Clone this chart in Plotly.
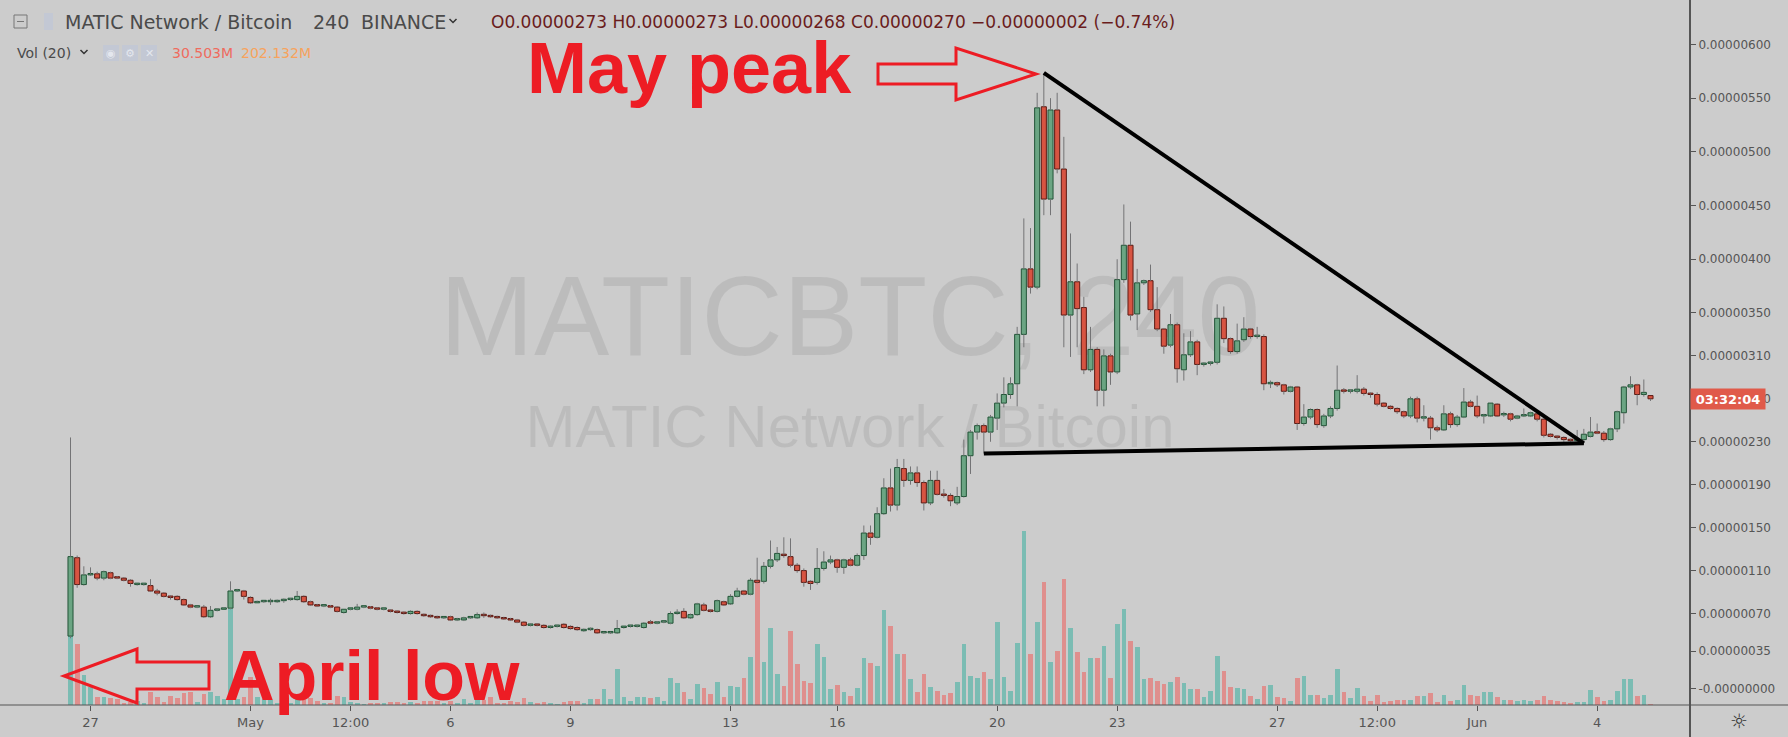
import pandas as pd
import plotly.graph_objects as go

# ---------------- DATA : MATIC / BTC (Binance), 4h candles, prices in satoshi (1e-8 BTC) -------------
opens = [
    49, 122, 97, 106, 107, 103, 108, 104, 103, 101,
    97, 97, 96, 91, 89, 86, 86, 83, 78, 76,
    76, 67, 73, 74, 75, 91, 91, 85, 80, 81,
    81, 81, 82, 83, 83, 86, 81, 78, 77, 77,
    76, 71, 74, 74, 76, 76, 75, 74, 73, 72,
    71, 70, 72, 69, 68, 67, 66, 67, 64, 64,
    66, 66, 69, 68, 67, 66, 65, 64, 62, 59,
    60, 59, 57, 58, 60, 58, 57, 54, 55, 55,
    52, 52, 52, 57, 58, 58, 57, 62, 61, 62,
    61, 70, 72, 66, 69, 78, 73, 72, 81, 79,
    86, 91, 88, 101, 100, 114, 120, 125, 123, 115,
    110, 100, 99, 112, 118, 120, 113, 120, 115, 124,
    145, 141, 163, 187, 171, 205, 194, 201, 192, 173,
    194, 181, 180, 173, 179, 217, 239, 245, 239, 252,
    266, 274, 284, 330, 391, 374, 542, 456, 539, 484,
    348, 379, 355, 297, 316, 278, 310, 295, 381, 413,
    349, 378, 380, 353, 335, 320, 339, 297, 311, 323,
    302, 303, 304, 345, 326, 314, 325, 335, 328, 328,
    284, 285, 283, 277, 281, 247, 253, 260, 245, 254,
    261, 278, 277, 277, 279, 275, 274, 266, 263, 261,
    258, 254, 270, 252, 252, 243, 241, 256, 246, 253,
    267, 263, 254, 254, 265, 255, 256, 252, 254, 254,
    256, 251, 237, 235, 234, 232, 231, 232, 235, 239,
    238, 232, 242, 257, 281, 283, 274, 273,
]
highs = [
    234, 124, 114, 113, 109, 110, 109, 105, 104, 102,
    98, 98, 102, 93, 90, 87, 87, 84, 79, 77,
    78, 77, 75, 76, 100, 93, 92, 86, 82, 82,
    84, 83, 84, 84, 91, 87, 82, 79, 78, 78,
    77, 74, 75, 79, 77, 77, 76, 75, 74, 73,
    72, 73, 73, 70, 69, 68, 67, 68, 66, 67,
    67, 71, 71, 69, 68, 67, 66, 65, 63, 61,
    61, 60, 59, 59, 61, 59, 58, 56, 57, 56,
    53, 53, 64, 58, 59, 59, 62, 64, 63, 63,
    72, 74, 75, 70, 80, 80, 74, 83, 82, 88,
    94, 92, 103, 122, 118, 138, 132, 141, 140, 117,
    112, 101, 131, 128, 124, 121, 121, 122, 126, 152,
    152, 169, 196, 205, 214, 214, 207, 207, 194, 203,
    203, 186, 182, 188, 232, 241, 247, 247, 255, 275,
    290, 290, 337, 438, 429, 555, 573, 550, 555, 514,
    424, 396, 365, 337, 318, 316, 312, 400, 451, 435,
    391, 381, 395, 374, 336, 349, 341, 331, 333, 325,
    304, 305, 358, 356, 327, 340, 346, 336, 337, 330,
    287, 286, 284, 282, 282, 265, 261, 261, 256, 263,
    301, 280, 279, 292, 281, 276, 276, 267, 264, 262,
    259, 272, 272, 264, 254, 245, 264, 258, 255, 280,
    269, 273, 256, 266, 266, 258, 257, 255, 261, 258,
    258, 252, 238, 236, 235, 233, 241, 242, 253, 247,
    240, 243, 259, 282, 291, 284, 288, 273,
]
lows = [
    47, 94, 96, 105, 101, 101, 102, 102, 100, 95,
    96, 96, 90, 87, 85, 83, 82, 77, 75, 75,
    66, 66, 72, 74, 74, 90, 83, 79, 80, 80,
    78, 80, 80, 82, 82, 80, 77, 76, 76, 75,
    71, 70, 73, 73, 75, 74, 73, 73, 71, 70,
    69, 69, 69, 67, 66, 65, 65, 63, 63, 63,
    65, 65, 66, 66, 65, 64, 63, 61, 58, 58,
    58, 56, 56, 57, 56, 55, 54, 53, 54, 51,
    51, 51, 51, 56, 57, 57, 56, 60, 60, 61,
    60, 69, 65, 65, 68, 72, 71, 71, 77, 78,
    85, 87, 87, 98, 98, 112, 118, 122, 113, 108,
    95, 92, 97, 110, 116, 108, 107, 114, 114, 120,
    134, 140, 162, 165, 166, 188, 190, 188, 166, 171,
    180, 178, 170, 171, 178, 200, 232, 219, 230, 241,
    262, 270, 263, 318, 368, 372, 441, 441, 480, 318,
    309, 318, 293, 295, 263, 263, 283, 293, 378, 343,
    334, 376, 351, 333, 312, 318, 285, 287, 309, 292,
    300, 301, 302, 322, 312, 312, 323, 326, 326, 278,
    280, 281, 274, 276, 241, 245, 251, 243, 243, 252,
    259, 275, 275, 275, 273, 271, 263, 262, 260, 256,
    252, 252, 248, 249, 232, 239, 240, 243, 244, 252,
    262, 252, 247, 253, 253, 253, 249, 251, 253, 253,
    249, 234, 234, 232, 230, 230, 229, 230, 234, 237,
    230, 231, 239, 247, 279, 264, 272, 268,
]
closes = [
    123, 97, 106, 107, 103, 109, 103, 103, 101, 98,
    98, 97, 91, 89, 86, 85, 83, 78, 76, 76,
    67, 73, 74, 75, 91, 92, 86, 80, 81, 81,
    81, 82, 83, 83, 86, 81, 78, 77, 77, 76,
    72, 74, 75, 76, 76, 75, 74, 74, 72, 71,
    70, 72, 70, 68, 67, 66, 66, 64, 65, 66,
    66, 69, 68, 67, 66, 65, 64, 62, 59, 60,
    59, 57, 58, 58, 57, 56, 55, 55, 55, 52,
    52, 52, 56, 58, 58, 58, 61, 61, 62, 62,
    70, 71, 66, 69, 79, 73, 72, 82, 78, 86,
    91, 88, 101, 99, 114, 120, 126, 124, 115, 110,
    99, 98, 112, 118, 120, 113, 120, 115, 124, 145,
    141, 163, 187, 171, 206, 194, 201, 192, 173, 194,
    181, 180, 175, 179, 217, 239, 245, 239, 253, 266,
    274, 284, 330, 391, 374, 541, 456, 539, 484, 348,
    379, 354, 297, 316, 278, 310, 295, 381, 413, 348,
    378, 380, 353, 335, 319, 339, 298, 311, 323, 302,
    303, 304, 345, 326, 314, 324, 335, 328, 328, 284,
    285, 283, 277, 281, 247, 253, 260, 246, 254, 261,
    278, 277, 277, 279, 275, 274, 265, 263, 261, 258,
    254, 270, 252, 253, 243, 241, 256, 246, 253, 267,
    263, 254, 255, 266, 254, 256, 251, 254, 255, 257,
    251, 236, 235, 234, 232, 231, 232, 237, 239, 238,
    232, 242, 258, 281, 283, 274, 276, 270,
]
# volume in millions of MATIC
volume_m = [
    1733, 1525, 750, 458, 200, 200, 168, 143, 43, 75,
    108, 58, 333, 208, 83, 225, 168, 293, 333, 68,
    268, 333, 225, 143, 2400, 143, 208, 708, 208, 143,
    125, 43, 125, 43, 275, 208, 168, 108, 43, 43,
    233, 208, 83, 43, 33, 43, 58, 58, 75, 75,
    58, 83, 58, 108, 108, 108, 43, 100, 58, 143,
    43, 168, 125, 193, 43, 43, 108, 83, 168, 83,
    58, 75, 43, 25, 83, 108, 108, 43, 143, 143,
    393, 143, 893, 200, 108, 200, 200, 175, 200, 108,
    668, 543, 333, 143, 518, 418, 268, 575, 200, 483,
    450, 668, 1208, 3058, 1075, 1925, 768, 483, 1858, 1018,
    608, 543, 1518, 1208, 393, 508, 325, 233, 418, 1168,
    1043, 975, 2383, 1975, 1268, 1268, 643, 325, 768, 443,
    350, 258, 293, 575, 1518, 725, 668, 825, 643, 2075,
    700, 350, 1543, 4358, 1268, 2075, 3075, 1075, 1350, 3143,
    1918, 1325, 825, 1168, 1168, 1483, 668, 2018, 2393, 1608,
    1450, 643, 668, 600, 518, 575, 700, 543, 393, 393,
    200, 350, 1233, 850, 450, 418, 393, 233, 143, 475,
    508, 200, 168, 100, 668, 725, 258, 258, 168, 258,
    893, 325, 168, 418, 225, 100, 258, 68, 100, 133,
    133, 133, 225, 225, 293, 68, 258, 100, 133, 508,
    258, 225, 325, 325, 200, 133, 133, 100, 133, 100,
    133, 225, 133, 100, 68, 43, 68, 68, 383, 193,
    100, 133, 350, 643, 643, 225, 258, 30.503,
]

first_bar = "2019-04-26 12:00"
last_bar = "2019-06-05 08:00"
missing_bars = ["2019-05-15 04:00", "2019-05-15 08:00"]   # exchange maintenance, no bars

tick_times = ["2019-04-27 00:00", "2019-05-01 00:00", "2019-05-03 12:00", "2019-05-06 00:00",
              "2019-05-09 00:00", "2019-05-13 00:00", "2019-05-16 00:00", "2019-05-20 00:00",
              "2019-05-23 00:00", "2019-05-27 00:00", "2019-05-29 12:00", "2019-06-01 00:00",
              "2019-06-04 00:00"]
tick_labels = ["27", "May", "12:00", "6", "9", "13", "16", "20", "23", "27", "12:00", "Jun", "4"]

price_ticks = [600, 550, 500, 450, 400, 350, 310, 270, 230, 190, 150, 110, 70, 35, 0]
price_tick_labels = ["0.00000600", "0.00000550", "0.00000500", "0.00000450", "0.00000400",
                     "0.00000350", "0.00000310", "0.00000270", "0.00000230", "0.00000190",
                     "0.00000150", "0.00000110", "0.00000070", "0.00000035", "-0.00000000"]

# drawn trend lines: (bar number, price in satoshi)
upper_line_bars, upper_line_prices = [146, 227], [573.5, 228.5]
lower_line_bars, lower_line_prices = [137, 227], [219, 228.5]

# ---------------- build ----------------
bar_keys = [t.strftime("%Y-%m-%d %H:%M") for t in pd.date_range(first_bar, last_bar, freq="4h")]
bar_keys = [k for k in bar_keys if k not in missing_bars]
n = min(len(bar_keys), len(opens), len(highs), len(lows), len(closes), len(volume_m))
idx = list(range(n))
tickvals = [bar_keys.index(t) for t in tick_times]

up = [closes[i] >= opens[i] for i in idx]
BG = "#cccccc"
UP_FILL, UP_LINE = "#6ba583", "#225437"
DN_FILL, DN_LINE = "#d75442", "#5b1a13"
WICK = "#737375"
VOL_UP, VOL_DN = "#7bbcb3", "#df8f8d"
RED = "#ed1c24"

W, H = 1788, 737
ML, MR, MT, MB = 0, 98, 0, 32
PW, PH = W - ML - MR, H - MT - MB
BAR_PX = 6.6667          # pixel pitch of one bar
X0_PX = 70.5             # pixel of bar 0
Y0_PX, SAT_PX = 688.7, 1.0737   # pixel of price 0, pixels per satoshi
VOL_PER_PX = 25.0        # million per pixel in the volume overlay

x_range = [(0 - X0_PX) / BAR_PX, (PW - X0_PX) / BAR_PX]
p_range = [(Y0_PX - PH) / SAT_PX, Y0_PX / SAT_PX]


def fx(x):
    return (x - ML) / PW


def fy(y):
    return 1 - (y - MT) / PH


fig = go.Figure()

# volume (base axis, drawn below candles)
fig.add_bar(x=idx, y=volume_m[:n], width=0.7, yaxis="y",
            marker=dict(color=[VOL_UP if u else VOL_DN for u in up], line=dict(width=0)),
            hoverinfo="skip")

# wicks (upper and lower parts, so they stay outside the bodies)
wx, wy = [], []
for i in idx:
    top, bot = max(opens[i], closes[i]), min(opens[i], closes[i])
    wx += [i, i, None, i, i, None]
    wy += [highs[i], top, None, bot, lows[i], None]
fig.add_scatter(x=wx, y=wy, mode="lines", yaxis="y2", line=dict(color=WICK, width=1),
                hoverinfo="skip", connectgaps=False)

# bodies
fig.add_bar(x=idx, y=[max(abs(closes[i] - opens[i]), 1.3) for i in idx],
            base=[min(opens[i], closes[i]) for i in idx], width=0.76, yaxis="y2",
            marker=dict(color=[UP_FILL if u else DN_FILL for u in up],
                        line=dict(color=[UP_LINE if u else DN_LINE for u in up], width=1)),
            hoverinfo="skip")

# trend lines
for bx, by in [(upper_line_bars, upper_line_prices), (lower_line_bars, lower_line_prices)]:
    fig.add_scatter(x=bx, y=by, mode="lines", yaxis="y2", line=dict(color="black", width=4),
                    hoverinfo="skip")

shapes = []
# watermark (below everything)
shapes.append(dict(type="rect", xref="paper", yref="paper", layer="below",
                   x0=fx(400), x1=fx(1300), y0=fy(250), y1=fy(360), line=dict(width=0),
                   fillcolor="rgba(0,0,0,0)",
                   label=dict(text="MATICBTC, 240", textposition="middle center",
                              font=dict(family="Liberation Sans", size=113, color="rgba(0,0,0,0.075)"))))
shapes.append(dict(type="rect", xref="paper", yref="paper", layer="below",
                   x0=fx(400), x1=fx(1300), y0=fy(393), y1=fy(448), line=dict(width=0),
                   fillcolor="rgba(0,0,0,0)",
                   label=dict(text="MATIC Network / Bitcoin", textposition="middle center",
                              font=dict(family="Liberation Sans", size=60, color="rgba(0,0,0,0.075)"))))
# axis frame lines
shapes.append(dict(type="line", xref="paper", yref="paper", x0=fx(1690), x1=fx(1690),
                   y0=fy(0), y1=fy(737), line=dict(color="#555555", width=2)))
shapes.append(dict(type="line", xref="paper", yref="paper", x0=fx(0), x1=fx(1788),
                   y0=fy(705), y1=fy(705), line=dict(color="#555555", width=1)))


def poly(points):
    return "M " + " L ".join(f"{fx(x):.5f},{fy(y):.5f}" for x, y in points) + " Z"


# hollow red arrows
shapes.append(dict(type="path", xref="paper", yref="paper",
                   path=poly([(878, 64), (956, 64), (956, 48), (1036, 74), (956, 100), (956, 84), (878, 84)]),
                   line=dict(color=RED, width=3), fillcolor="rgba(0,0,0,0)"))
shapes.append(dict(type="path", xref="paper", yref="paper",
                   path=poly([(209, 662), (137, 662), (137, 649), (64, 676), (137, 703), (137, 689), (209, 689)]),
                   line=dict(color=RED, width=3), fillcolor="rgba(0,0,0,0)"))
# header icons
shapes.append(dict(type="rect", xref="paper", yref="paper", x0=fx(14), x1=fx(27), y0=fy(15), y1=fy(28),
                   line=dict(color="#777777", width=1), fillcolor="rgba(0,0,0,0)"))
shapes.append(dict(type="line", xref="paper", yref="paper", x0=fx(17), x1=fx(24), y0=fy(21.5), y1=fy(21.5),
                   line=dict(color="#777777", width=1)))
shapes.append(dict(type="rect", xref="paper", yref="paper", x0=fx(44), x1=fx(53), y0=fy(13), y1=fy(30),
                   line=dict(width=0), fillcolor="#c3c8d4"))
for x0 in (103, 122, 141):
    shapes.append(dict(type="rect", xref="paper", yref="paper", x0=fx(x0), x1=fx(x0 + 16),
                       y0=fy(45), y1=fy(61), line=dict(width=0), fillcolor="#c3c8d4"))
for cx, cy in ((453, 21), (84, 52)):
    shapes.append(dict(type="path", xref="paper", yref="paper",
                       path=f"M {fx(cx-3.5):.5f},{fy(cy-2):.5f} L {fx(cx):.5f},{fy(cy+1.5):.5f} L {fx(cx+3.5):.5f},{fy(cy-2):.5f}",
                       line=dict(color="#333333", width=1.5)))

FONT = "DejaVu Sans"
ann = []


def label(x, y, text, size, color, family=FONT, xanchor="left"):
    ann.append(dict(xref="paper", yref="paper", x=fx(x), y=fy(y), text=text, showarrow=False,
                    xanchor=xanchor, yanchor="middle", font=dict(family=family, size=size, color=color)))


label(63, 22, "MATIC Network / Bitcoin", 19, "#4a4a4a")
label(311, 22, "240", 19, "#4a4a4a")
label(359, 22, "BINANCE", 19, "#4a4a4a")
label(489, 22, "O0.00000273 H0.00000273 L0.00000268 C0.00000270 \u22120.00000002 (\u22120.74%)", 17, "#6a1c1c")
label(15, 53, "Vol (20)", 14, "#4a4a4a")
label(170, 53, "30.503M", 14, "#ef6b5e")
label(239, 53, "202.132M", 14, "#f7a35c")
for x0, g in ((103, "\u25c9"), (122, "\u2699"), (141, "\u2715")):
    label(x0 + 8, 53, g, 11, "#e4e7ee", xanchor="center")
label(525, 68, "<b>May peak</b>", 72, RED, family="Liberation Sans")
label(222, 676, "<b>April low</b>", 70, RED, family="Liberation Sans")
label(1739, 721, "\u263c", 20, "#333333", xanchor="center")
# live price / countdown label
ann.append(dict(xref="paper", yref="y2", x=1.0, y=closes[n - 1], text="<b>03:32:04</b>", showarrow=False,
                xanchor="left", yanchor="middle", bgcolor="#e05a4a", width=70, height=16, borderpad=2,
                font=dict(family=FONT, size=13, color="white")))

fig.update_layout(
    width=W, height=H, autosize=False,
    margin=dict(l=ML, r=MR, t=MT, b=MB, pad=0),
    paper_bgcolor=BG, plot_bgcolor=BG,
    showlegend=False, barmode="overlay", bargap=0,
    xaxis=dict(range=x_range, showgrid=False, zeroline=False, showline=False,
               tickmode="array", tickvals=tickvals, ticktext=tick_labels,
               ticks="outside", ticklen=5, tickcolor="#555555", tickwidth=1,
               tickfont=dict(family=FONT, size=13, color="#555555"), automargin=False),
    yaxis=dict(range=[0, PH * VOL_PER_PX], visible=False, fixedrange=True),
    yaxis2=dict(overlaying="y", side="right", range=p_range, showgrid=False, zeroline=False,
                showline=False, tickmode="array", tickvals=price_ticks, ticktext=price_tick_labels,
                ticks="outside", ticklen=5, tickcolor="#555555", tickwidth=1,
                tickfont=dict(family=FONT, size=12, color="#555555"), automargin=False),
    shapes=shapes, annotations=ann,
)

fig.write_html("out.html", config={"displayModeBar": False, "staticPlot": True},
               post_script="document.body.style.margin='0';document.body.style.overflow='hidden';")
